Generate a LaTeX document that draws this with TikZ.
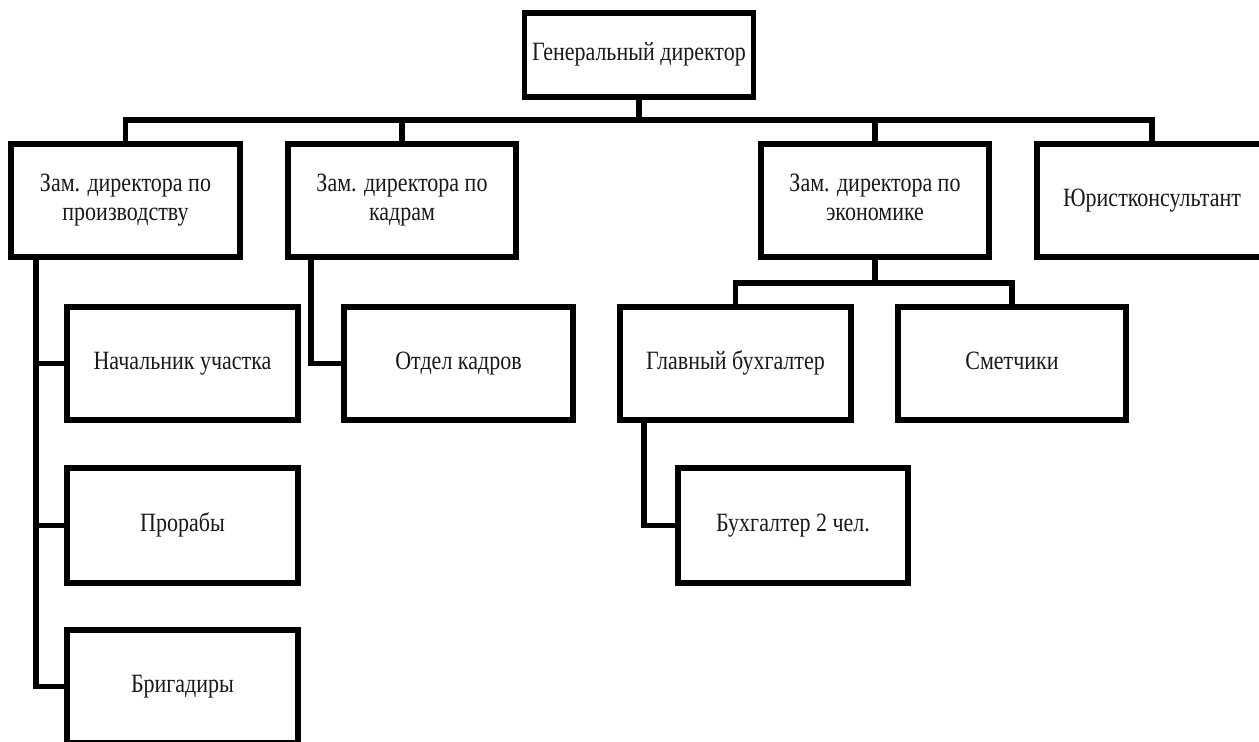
\documentclass[tikz,border=0pt]{standalone}
\usepackage{fontspec}
\setmainfont{Liberation Serif}
\usepackage{graphicx}
\usetikzlibrary{calc}
\newcommand{\vst}[1]{\scalebox{1}[1.2]{\begin{tabular}{@{}c@{}}#1\end{tabular}}}
\begin{document}
\begin{tikzpicture}[x=1pt,y=-1pt,
  box/.style={draw=black, line width=5.5pt, rectangle, inner sep=0pt, outer sep=0pt,
    minimum height=113pt, font=\fontsize{22}{24.2}\selectfont, text=black!90},
  conn/.style={draw=black, line width=5.5pt, line cap=rect}]
\useasboundingbox (0,0) rectangle (1259,742);
\clip (0,0) rectangle (1259,742);
\fill[white] (0,0) rectangle (1259,742);
% nodes
\node[box, minimum width=229pt, minimum height=84pt] (gen) at (639,55) {\vst{Генеральный директор}};
\node[box, minimum width=229pt] (b1) at (125.5,200.5) {\vst{Зам. директора по\\производству}};
\node[box, minimum width=228pt] (b2) at (402,200.5) {\vst{Зам. директора по\\кадрам}};
\node[box, minimum width=228pt] (b3) at (875,200.5) {\vst{Зам. директора по\\экономике}};
\node[box, minimum width=230pt] (b4) at (1152,200.5) {\vst{Юристконсультант}};
\node[box, minimum width=231pt] (n1) at (182.5,363.5) {\vst{Начальник участка}};
\node[box, minimum width=231pt, minimum height=115pt] (n2) at (182.5,525.5) {\vst{Прорабы}};
\node[box, minimum width=231pt] (n3) at (182.5,686.5) {\vst{Бригадиры}};
\node[box, minimum width=229pt] (ok) at (458.5,363.5) {\vst{Отдел кадров}};
\node[box, minimum width=231pt] (gb) at (735.5,363.5) {\vst{Главный бухгалтер}};
\node[box, minimum width=228pt] (sm) at (1012,363.5) {\vst{Сметчики}};
\node[box, minimum width=230pt, minimum height=115pt] (bh) at (793,525.5) {\vst{Бухгалтер 2 чел.}};
% connectors
\coordinate (bus) at (639,120);
\draw[conn] (gen.south) -- (bus);
\draw[conn] (b1.north) |- (bus);
\draw[conn] (b4.north) |- (bus);
\draw[conn] (b2.north) -- (b2.north |- bus);
\draw[conn] (b3.north) -- (b3.north |- bus);
\coordinate (t1) at ($(b1.south west)+(25,0)$);
\draw[conn] (t1) |- (n1.west);
\draw[conn] (t1) |- (n2.west);
\draw[conn] (t1) |- (n3.west);
\coordinate (t2) at ($(b2.south west)+(23,0)$);
\draw[conn] (t2) |- (ok.west);
\coordinate (sb) at (875,283);
\draw[conn] (b3.south) -- (sb);
\draw[conn] (gb.north) |- (sb);
\draw[conn] (sm.north) |- (sb);
\coordinate (t3) at ($(gb.south west)+(24,0)$);
\draw[conn] (t3) |- (bh.west);
\end{tikzpicture}
\end{document}
